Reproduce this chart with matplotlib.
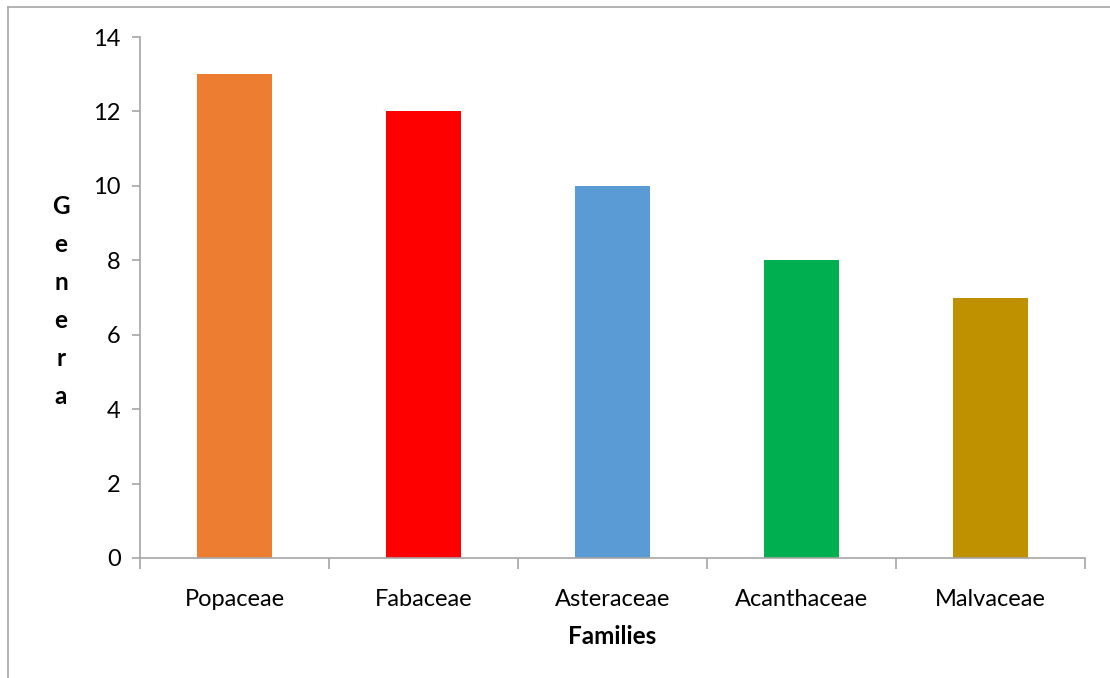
import matplotlib.pyplot as plt
from matplotlib.lines import Line2D

families = ['Popaceae', 'Fabaceae', 'Asteraceae', 'Acanthaceae', 'Malvaceae']
genera = [13, 12, 10, 8, 7]
colors = ['#ED7D31', '#FF0000', '#5B9BD5', '#00B050', '#BF9000']
y_ticks = [0, 2, 4, 6, 8, 10, 12, 14]

plt.rcParams['font.family'] = ['Lato', 'DejaVu Sans']

fig = plt.figure(figsize=(11.1, 6.78), dpi=100)
ax = fig.add_axes([140 / 1110, 1 - 558 / 678, 945 / 1110, 521 / 678])

x = range(len(families))
ax.bar(x, genera, width=0.4, color=colors)

ax.set_xlim(-0.5, len(families) - 0.5)
ax.set_ylim(0, 14)
ax.set_yticks(y_ticks)
ax.set_yticklabels([str(v) for v in y_ticks], fontsize=17)
ax.set_xticks(list(x))
ax.set_xticklabels(families, fontsize=17)
ax.tick_params(axis='x', length=0, pad=22)
ax.tick_params(axis='y', length=6, color='#A6A6A6', width=1.2, pad=8)

# category separators below the x axis
ax.set_xticks([i - 0.5 for i in range(len(families) + 1)], minor=True)
ax.tick_params(axis='x', which='minor', length=8, color='#A6A6A6', width=1.2)

for side in ['top', 'right']:
    ax.spines[side].set_visible(False)
for side in ['left', 'bottom']:
    ax.spines[side].set_color('#A6A6A6')
    ax.spines[side].set_linewidth(1.2)

ax.set_xlabel('Families', fontsize=17.5, fontweight='bold', labelpad=11)

# vertical stacked y label
for i, ch in enumerate('Genera'):
    fig.text(61 / 1110, 1 - (207 + i * 37.8) / 678, ch, fontsize=17.5,
             fontweight='bold', ha='center', va='center')

# chart area border (top and left edges)
fig.add_artist(Line2D([8 / 1110, 1], [1 - 7 / 678, 1 - 7 / 678],
                      transform=fig.transFigure, color='#A6A6A6', lw=1.2))
fig.add_artist(Line2D([8 / 1110, 8 / 1110], [0, 1 - 7 / 678],
                      transform=fig.transFigure, color='#A6A6A6', lw=1.2))

fig.savefig('out.png', dpi=100)
